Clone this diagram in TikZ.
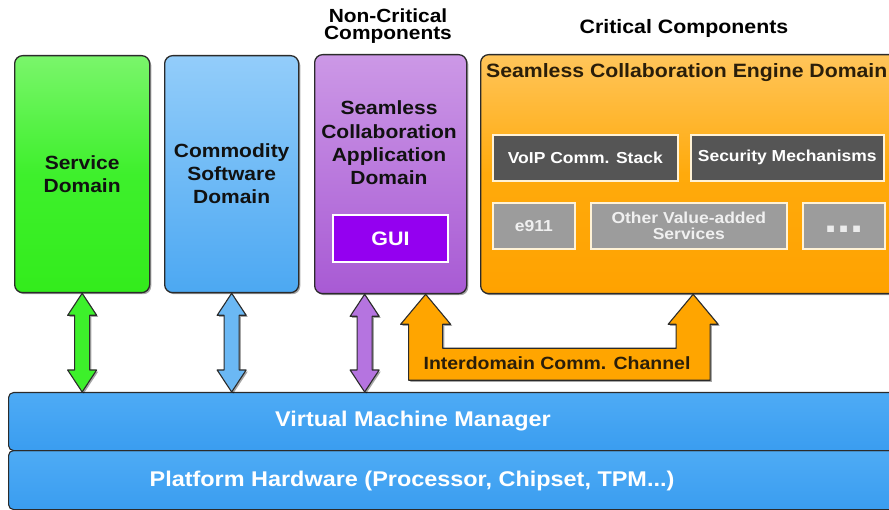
\documentclass[tikz,border=0pt]{standalone}
\usepackage{fontspec}
\setmainfont{Liberation Sans}[FakeStretch=1.1]
\usetikzlibrary{calc,shadows}

\definecolor{edge}{HTML}{2B2B2B}
\definecolor{ink}{HTML}{111111}
\definecolor{greenTop}{HTML}{7AF56B}
\definecolor{greenMid}{HTML}{3EF02C}
\definecolor{greenBot}{HTML}{33EC1C}
\definecolor{blueTop}{HTML}{93CDFA}
\definecolor{blueBot}{HTML}{4CA8F2}
\definecolor{purpTop}{HTML}{CC98E6}
\definecolor{purpBot}{HTML}{A85AD4}
\definecolor{guiFill}{HTML}{9400F0}
\definecolor{orangeTop}{HTML}{FFC55A}
\definecolor{orangeMid}{HTML}{FFAA0C}
\definecolor{orangeBot}{HTML}{FFA200}
\definecolor{barTop}{HTML}{4EABF5}
\definecolor{barBot}{HTML}{3A9DF0}
\definecolor{darkBox}{HTML}{555555}
\definecolor{lightBox}{HTML}{9C9C9C}
\definecolor{rim}{HTML}{FFF2D6}
\definecolor{aGreen}{HTML}{3DF02B}
\definecolor{aBlue}{HTML}{6BB8F4}
\definecolor{aPurple}{HTML}{B574E0}
\definecolor{aOrange}{HTML}{FFA500}
\definecolor{engInk}{HTML}{2A1E0A}

% bold text at a given size and line distance
\newcommand\fs[2]{\fontsize{#1}{#2}\selectfont\bfseries}

% vertical block arrow with heads at both ends: fill, top point, bottom point
\newcommand\dualarrow[3]{%
  \path[blockarrow, fill=#1] let \p1=#2, \p2=#3 in
    (\x1,\y1) -- (\x1+14.5pt,\y1-22pt) -- (\x1+7.5pt,\y1-22pt)
    -- (\x1+7.5pt,\y2+22pt) -- (\x1+14.5pt,\y2+22pt) -- (\x1,\y2)
    -- (\x1-14.5pt,\y2+22pt) -- (\x1-7.5pt,\y2+22pt)
    -- (\x1-7.5pt,\y1-22pt) -- (\x1-14.5pt,\y1-22pt) -- cycle;}

\begin{document}
\begin{tikzpicture}[x=1pt,y=-1pt,
  shadowed/.style={drop shadow={shadow xshift=1.6pt,shadow yshift=-1.6pt,opacity=0.35,fill=black}},
  domainbox/.style={draw=edge, line width=1.3pt, rounded corners=8pt, anchor=north west,
    inner sep=0pt, align=center, text=ink, shadowed},
  inbox/.style={draw=rim, line width=1.6pt, anchor=north west, inner sep=0pt,
    align=center, text=white, font=\fs{15.9}{16.5}},
  layerbox/.style={draw=edge, line width=1.1pt, rounded corners=5pt, anchor=north west,
    inner sep=0pt, minimum width=897, top color=barTop, bottom color=barBot},
  layertext/.style={anchor=base, inner sep=0pt, text=white, font=\fs{21.3}{24}},
  headtext/.style={inner sep=0pt, align=center, text=black, font=\fs{19}{17}},
  blockarrow/.style={draw=edge, line width=1.1pt, line join=round, shadowed}]
\useasboundingbox (0,0) rectangle (889,510);
\clip (0,0) rectangle (889,510);

% headings
\node[headtext] (noncrit) at (388,26) {Non-Critical\\Components};
\node[headtext, font=\fs{19.4}{20}, anchor=base] (crit) at (684,34) {Critical Components};

% domain boxes
\node[domainbox, minimum width=135, minimum height=237, top color=greenTop,
  bottom color=greenBot, middle color=greenMid, font=\fs{19.1}{23}] (svc) at (14,55) {Service\\Domain};
\node[domainbox, minimum width=134, minimum height=237, top color=blueTop,
  bottom color=blueBot, font=\fs{19.1}{23}] (cmd) at (164,55) {Commodity\\Software\\Domain};
\node[domainbox, minimum width=152, minimum height=239, top color=purpTop,
  bottom color=purpBot] (app) at (314,54) {};
\node[inner sep=0pt, align=center, text=ink, font=\fs{19.1}{23.3}] (apptxt) at (389,143)
  {Seamless\\Collaboration\\Application\\Domain};
\node[draw=white, line width=2pt, fill=guiFill, minimum width=115, minimum height=47,
  anchor=north west, inner sep=0pt, text=white, font=\fs{19.5}{20}] (gui) at (332,214) {GUI};

% engine domain
\node[domainbox, minimum width=425, minimum height=239, top color=orangeTop,
  bottom color=orangeBot, middle color=orangeMid] (eng) at (480,54) {};
\node[anchor=base west, inner sep=0pt, text=engInk, font=\fs{19.3}{20}] (engtitle) at (486,78)
  {Seamless Collaboration Engine Domain};
\node[inbox, fill=darkBox, minimum width=185, minimum height=46] (voip) at (492,134) {VoIP Comm. Stack};
\node[inbox, fill=darkBox, minimum width=193, minimum height=46] (sec) at (690,134) {Security Mechanisms};
\node[inbox, fill=lightBox, minimum width=82, minimum height=46, text=white!94!black] (e911) at (492,202) {e911};
\node[inbox, fill=lightBox, minimum width=196, minimum height=46, text=white!94!black] (other) at (590,202)
  {Other Value-added\\Services};
\node[inbox, fill=lightBox, minimum width=82, minimum height=46] (more) at (802,202) {};
\node[anchor=base, inner sep=0pt, text=white!92!black, font=\fs{43}{43}] (dots) at (more.center |- 0,232.5) {...};

% platform layers
\node[layerbox, minimum height=59] (hw) at (8,450) {};
\node[layerbox, minimum height=58] (vmm) at (8,392) {};
\node[layertext] (vmmtxt) at (413,426.5) {Virtual Machine Manager};
\node[layertext] (hwtxt) at (412,486.5) {Platform Hardware (Processor, Chipset, TPM...)};

% links between the domains and the manager
\dualarrow{aGreen}{(svc.south)}{(svc.south |- vmm.north)}
\dualarrow{aBlue}{(cmd.south)}{(cmd.south |- vmm.north)}
\dualarrow{aPurple}{($(app.south)+(-26,0)$)}{($(app.south |- vmm.north)+(-26,0)$)}

% interdomain channel
\path[blockarrow, fill=aOrange] let \p1=($(app.south)+(35,0)$), \p2=(eng.south) in
  (\x1,\y1) -- (\x1+25pt,\y1-30pt) -- (\x1+17pt,\y1-30pt) -- (\x1+17pt,\y1-54pt)
  -- (\x2-17pt,\y1-54pt) -- (\x2-17pt,\y1-30pt) -- (\x2-25pt,\y1-30pt) -- (\x2,\y2)
  -- (\x2+25pt,\y1-30pt) -- (\x2+17pt,\y1-30pt) -- (\x2+17pt,\y1-86pt)
  -- (\x1-17pt,\y1-86pt) -- (\x1-17pt,\y1-30pt) -- (\x1-25pt,\y1-30pt) -- cycle;
\node[anchor=base, inner sep=0pt, text=engInk, font=\fs{17.7}{18}] (chan) at (557,369.3)
  {Interdomain Comm. Channel};
\end{tikzpicture}
\end{document}
